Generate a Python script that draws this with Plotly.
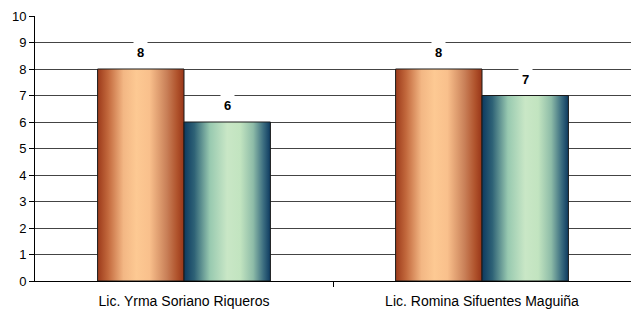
import plotly.graph_objects as go

categories = ["Lic. Yrma Soriano Riqueros", "Lic. Romina Sifuentes Maguiña"]
series_a = [8, 8]
series_b = [6, 7]
y_ticks = list(range(0, 11))

orange_scale = [[0.0, "#9c3a1a"], [0.12, "#c2683c"], [0.3, "#f3b784"], [0.45, "#fdc993"],
                [0.6, "#f9c08c"], [0.8, "#c98058"], [0.92, "#b0532c"], [1.0, "#983518"]]
green_scale = [[0.0, "#0d3a60"], [0.12, "#2e6276"], [0.3, "#98c9b0"], [0.5, "#c9e7c6"],
               [0.65, "#c2e4c0"], [0.8, "#8ebca8"], [0.92, "#3b6d80"], [1.0, "#0d3a60"]]

bar_w = 0.29
fig = go.Figure()

def add_bar(xc_left, val, scale):
    x0, x1 = xc_left, xc_left + bar_w
    fig.add_trace(go.Scatter(
        x=[x0, x0, x1, x1, x0], y=[0, val, val, 0, 0], mode="lines",
        fill="toself", fillgradient=dict(type="horizontal", colorscale=scale),
        line=dict(color="#1a1a1a", width=1), hoverinfo="skip", showlegend=False))
    fig.add_annotation(x=(x0 + x1) / 2, y=val, text="<b>%d</b>" % val, showarrow=False,
                       yanchor="bottom", yshift=5, bgcolor="white", borderpad=3,
                       font=dict(family="Arial, Liberation Sans", size=13, color="black"))

for i in range(len(categories)):
    add_bar(i - bar_w, series_a[i], orange_scale)
    add_bar(i, series_b[i], green_scale)

fig.update_layout(
    width=631, height=309, margin=dict(l=35, r=0, t=16, b=28, autoexpand=False),
    plot_bgcolor="white", paper_bgcolor="white",
    font=dict(family="Arial, Liberation Sans", size=13, color="black"),
    xaxis=dict(range=[-0.5, 1.5], tickvals=list(range(len(categories))), ticktext=categories,
               showgrid=False, zeroline=False, showline=True, linecolor="black", linewidth=1,
               ticks="", tickfont=dict(size=14), automargin=False, ticklabelstandoff=7,
               minor=dict(tickmode="array", tickvals=[0.5], ticks="outside", ticklen=5,
                          tickcolor="black", showgrid=False)),
    yaxis=dict(range=[0, 10], tickvals=y_ticks, showgrid=True, gridcolor="#444444", gridwidth=1,
               zeroline=False, showline=True, linecolor="black", linewidth=1, automargin=False,
               ticks="outside", ticklen=5, tickcolor="black", tickfont=dict(size=13)),
)

fig.write_html("out.html", config={"displayModeBar": False},
               post_script="document.body.style.margin='0';document.body.style.overflow='hidden';")
